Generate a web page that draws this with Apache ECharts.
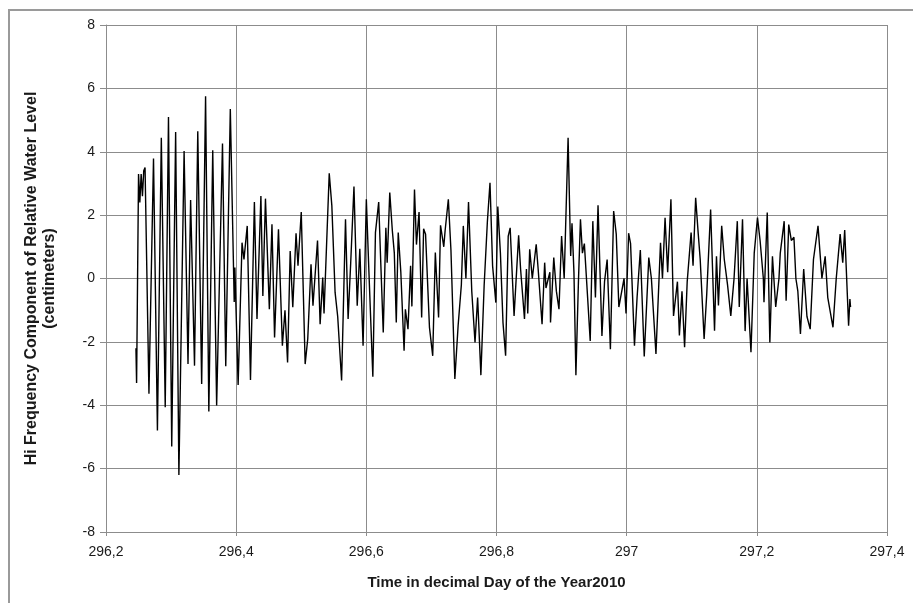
<!DOCTYPE html>
<html>
<head>
<meta charset="utf-8">
<script src="https://cdn.jsdelivr.net/npm/echarts@6/dist/echarts.min.js"></script>
<style>
  html, body { margin: 0; padding: 0; background: #fff; }
  #chart { width: 913px; height: 603px; }
</style>
</head>
<body>
<div id="chart"></div>
<script>
// decimal day of year 2010
const times = [
  296.246, 296.247, 296.250, 296.252, 296.254, 296.256, 296.258, 296.260, 296.266, 296.273,
  296.279, 296.285, 296.291, 296.296, 296.301, 296.307, 296.312, 296.320, 296.326, 296.330,
  296.336, 296.341, 296.347, 296.353, 296.358, 296.364, 296.370, 296.379, 296.384, 296.391,
  296.397, 296.398, 296.403, 296.409, 296.412, 296.417, 296.422, 296.428, 296.432, 296.438,
  296.441, 296.445, 296.451, 296.455, 296.459, 296.465, 296.471, 296.475, 296.479, 296.483,
  296.487, 296.492, 296.495, 296.500, 296.506, 296.510, 296.515, 296.518, 296.525, 296.529,
  296.533, 296.535, 296.543, 296.547, 296.552, 296.556, 296.562, 296.568, 296.572, 296.576,
  296.581, 296.586, 296.590, 296.595, 296.600, 296.604, 296.610, 296.614, 296.619, 296.622,
  296.626, 296.630, 296.632, 296.636, 296.640, 296.643, 296.646, 296.649, 296.653, 296.658,
  296.660, 296.664, 296.668, 296.670, 296.674, 296.677, 296.681, 296.685, 296.688, 296.691,
  296.697, 296.702, 296.706, 296.711, 296.714, 296.719, 296.721, 296.726, 296.730, 296.736,
  296.741, 296.746, 296.749, 296.753, 296.757, 296.762, 296.767, 296.771, 296.776, 296.781,
  296.786, 296.790, 296.794, 296.799, 296.802, 296.806, 296.810, 296.814, 296.818, 296.821,
  296.827, 296.834, 296.837, 296.843, 296.846, 296.848, 296.851, 296.855, 296.861, 296.864,
  296.870, 296.874, 296.876, 296.882, 296.883, 296.888, 296.892, 296.896, 296.900, 296.904,
  296.910, 296.914, 296.916, 296.919, 296.922, 296.926, 296.929, 296.932, 296.935, 296.940,
  296.944, 296.948, 296.952, 296.956, 296.962, 296.966, 296.970, 296.975, 296.980, 296.984,
  296.988, 296.996, 296.999, 297.003, 297.006, 297.012, 297.016, 297.021, 297.027, 297.034,
  297.038, 297.045, 297.052, 297.055, 297.059, 297.063, 297.068, 297.072, 297.078, 297.081,
  297.085, 297.089, 297.093, 297.099, 297.102, 297.106, 297.110, 297.113, 297.119, 297.123,
  297.129, 297.135, 297.138, 297.141, 297.146, 297.150, 297.155, 297.160, 297.165, 297.170,
  297.173, 297.178, 297.182, 297.185, 297.191, 297.196, 297.201, 297.205, 297.210, 297.211,
  297.216, 297.220, 297.224, 297.229, 297.234, 297.236, 297.242, 297.245, 297.249, 297.253,
  297.257, 297.260, 297.263, 297.267, 297.272, 297.277, 297.282, 297.287, 297.294, 297.300,
  297.305, 297.309, 297.317, 297.322, 297.328, 297.332, 297.335, 297.341, 297.343, 297.344
];

// hi frequency component of relative water level (cm)
const levels = [
  -2.2, -3.3, 3.3, 2.4, 3.3, 2.6, 3.4, 3.5, -3.64, 3.79,
  -4.8, 4.44, -4.06, 5.1, -5.3, 4.62, -6.2, 4.02, -2.7, 2.48,
  -2.75, 4.65, -3.33, 5.75, -4.2, 4.05, -4.01, 4.26, -2.77, 5.35,
  -0.74, 0.35, -3.36, 1.13, 0.6, 1.66, -3.2, 2.41, -1.28, 2.6,
  -0.55, 2.52, -0.97, 1.71, -1.86, 1.55, -2.12, -1.0, -2.65, 0.87,
  -0.91, 1.43, 0.4, 2.1, -2.7, -1.9, 0.45, -0.86, 1.2, -1.44,
  0.03, -1.1, 3.32, 2.3, -0.44, -1.2, -3.22, 1.87, -1.28, 0.5,
  2.9, -0.86, 0.94, -2.12, 2.5, 0.2, -3.1, 1.45, 2.41, 0.6,
  -1.7, 1.6, 0.5, 2.71, 1.5, 0.8, -1.39, 1.45, 0.2, -2.28,
  -0.97, -1.6, 0.4, -0.88, 2.81, 1.07, 2.1, -1.23, 1.57, 1.4,
  -1.54, -2.44, 0.82, -1.23, 1.68, 1.0, 1.5, 2.5, 0.9, -3.17,
  -1.5, -0.2, 1.66, 0.0, 2.41, -0.4, -2.02, -0.6, -3.05, -0.23,
  1.8, 3.02, 0.4, -0.76, 2.27, 0.8, -1.4, -2.44, 1.34, 1.6,
  -1.18, 1.36, 0.3, -1.28, 0.3, -1.1, 0.92, 0.0, 1.08, 0.3,
  -1.44, 0.5, -0.3, 0.2, -1.39, 0.66, -0.4, -0.97, 1.34, 0.0,
  4.44, 0.71, 1.74, 0.2, -3.05, -0.02, 1.87, 0.8, 1.1, -0.6,
  -1.97, 1.81, -0.6, 2.31, -1.81, -0.1, 0.6, -2.23, 2.13, 1.4,
  -0.9, 0.0, -1.1, 1.43, 1.1, -2.12, -0.6, 0.9, -2.46, 0.66,
  0.0, -2.38, 1.13, 0.0, 1.92, 0.2, 2.5, -1.18, -0.1, -1.8,
  -0.4, -2.17, -0.1, 1.45, 0.4, 2.55, 1.4, 0.6, -1.91, -0.5,
  2.18, -1.65, 0.7, -0.85, 1.66, 0.6, -0.2, -1.18, 0.0, 1.81,
  -0.9, 1.87, -1.66, 0.0, -2.33, 0.8, 1.92, 1.2, 0.0, -0.75,
  2.08, -2.02, 0.7, -0.9, 0.0, 0.8, 1.81, -0.7, 1.7, 1.2,
  1.3, 0.0, -0.4, -1.75, 0.3, -1.2, -1.6, 0.6, 1.66, 0.0,
  0.7, -0.6, -1.54, 0.0, 1.4, 0.5, 1.53, -1.49, -0.65, -0.9
];

const seriesData = times.map((t, i) => [t, levels[i]]);

const gridColor = '#8c8c8c';
const textColor = '#1a1a1a';

const chart = echarts.init(document.getElementById('chart'));

chart.setOption({
  animation: false,
  backgroundColor: '#fff',
  graphic: [{
    type: 'rect',
    shape: { x: 9, y: 10, width: 1000, height: 1000 },
    style: { fill: 'none', stroke: '#9a9a9a', lineWidth: 2 },
    silent: true
  }],
  grid: { left: 106, top: 25, right: 26, bottom: 71 },
  xAxis: {
    type: 'value',
    min: 296.2,
    max: 297.4,
    interval: 0.2,
    name: 'Time in decimal Day of the Year2010',
    nameLocation: 'middle',
    nameGap: 43,
    nameTextStyle: { fontFamily: 'Liberation Sans', fontSize: 15, fontWeight: 'bold', color: textColor },
    axisLine: { show: true, onZero: false, lineStyle: { color: gridColor } },
    axisTick: { show: true, length: 4, lineStyle: { color: gridColor } },
    axisLabel: {
      fontFamily: 'Liberation Sans', fontSize: 14, color: textColor, margin: 13,
      formatter: (v) => String(+v.toFixed(1)).replace('.', ',')
    },
    splitLine: { show: true, lineStyle: { color: gridColor, width: 1 } }
  },
  yAxis: {
    type: 'value',
    min: -8,
    max: 8,
    interval: 2,
    name: 'Hi Frequency Component of Relative Water Level\n(centimeters)',
    nameLocation: 'middle',
    nameGap: 47,
    nameTextStyle: { fontFamily: 'Liberation Sans', fontSize: 16, fontWeight: 'bold', color: textColor, lineHeight: 18 },
    axisLine: { show: true, lineStyle: { color: gridColor } },
    axisTick: { show: true, length: 6, lineStyle: { color: gridColor } },
    axisLabel: { fontFamily: 'Liberation Sans', fontSize: 14, color: textColor, margin: 11 },
    splitLine: { show: true, lineStyle: { color: gridColor, width: 1 } }
  },
  series: [{
    type: 'line',
    data: seriesData,
    showSymbol: false,
    lineStyle: { color: '#000', width: 1.4 }
  }]
});
</script>
</body>
</html>
